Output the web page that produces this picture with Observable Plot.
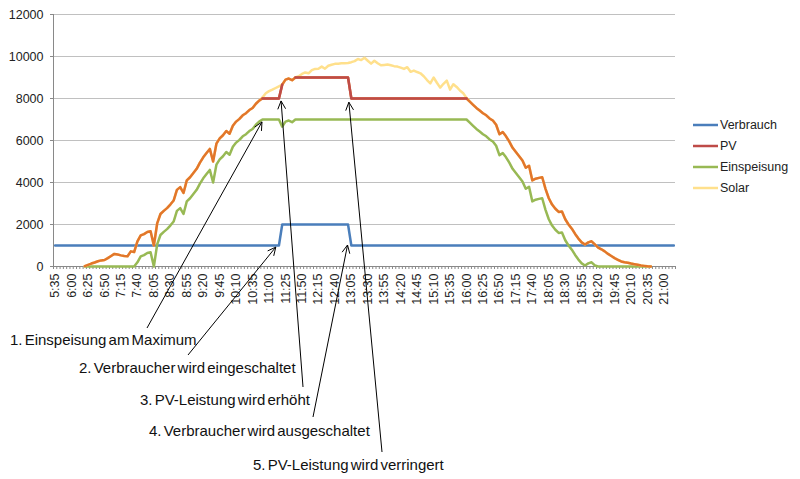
<!DOCTYPE html>
<html><head><meta charset="utf-8">
<script src="https://cdn.jsdelivr.net/npm/d3@7"></script>
<script src="https://cdn.jsdelivr.net/npm/@observablehq/plot@0.6"></script>
<style>
body{margin:0;background:#fff;}
#chart{width:800px;height:479px;}
svg text{font-family:"Liberation Sans",Arial,sans-serif;}
</style></head><body><div id="chart"></div>
<script>
// ---- categories (5-minute steps) ----
const times = (
 "5:35 5:40 5:45 5:50 5:55 " +
 "6:00 6:05 6:10 6:15 6:20 6:25 6:30 6:35 6:40 6:45 6:50 6:55 " +
 "7:00 7:05 7:10 7:15 7:20 7:25 7:30 7:35 7:40 7:45 7:50 7:55 " +
 "8:00 8:05 8:10 8:15 8:20 8:25 8:30 8:35 8:40 8:45 8:50 8:55 " +
 "9:00 9:05 9:10 9:15 9:20 9:25 9:30 9:35 9:40 9:45 9:50 9:55 " +
 "10:00 10:05 10:10 10:15 10:20 10:25 10:30 10:35 10:40 10:45 10:50 10:55 " +
 "11:00 11:05 11:10 11:15 11:20 11:25 11:30 11:35 11:40 11:45 11:50 11:55 " +
 "12:00 12:05 12:10 12:15 12:20 12:25 12:30 12:35 12:40 12:45 12:50 12:55 " +
 "13:00 13:05 13:10 13:15 13:20 13:25 13:30 13:35 13:40 13:45 13:50 13:55 " +
 "14:00 14:05 14:10 14:15 14:20 14:25 14:30 14:35 14:40 14:45 14:50 14:55 " +
 "15:00 15:05 15:10 15:15 15:20 15:25 15:30 15:35 15:40 15:45 15:50 15:55 " +
 "16:00 16:05 16:10 16:15 16:20 16:25 16:30 16:35 16:40 16:45 16:50 16:55 " +
 "17:00 17:05 17:10 17:15 17:20 17:25 17:30 17:35 17:40 17:45 17:50 17:55 " +
 "18:00 18:05 18:10 18:15 18:20 18:25 18:30 18:35 18:40 18:45 18:50 18:55 " +
 "19:00 19:05 19:10 19:15 19:20 19:25 19:30 19:35 19:40 19:45 19:50 19:55 " +
 "20:00 20:05 20:10 20:15 20:20 20:25 20:30 20:35 20:40 20:45 20:50 20:55 " +
 "21:00 21:05 21:10 21:15").split(" ");

const tickLabels = ["5:35","6:00","6:25","6:50","7:15","7:40","8:05","8:30","8:55","9:20",
 "9:45","10:10","10:35","11:00","11:25","11:50","12:15","12:40","13:05","13:30","13:55",
 "14:20","14:45","15:10","15:35","16:00","16:25","16:50","17:15","17:40","18:05","18:30",
 "18:55","19:20","19:45","20:10","20:35","21:00"];

const yTicks = [0, 2000, 4000, 6000, 8000, 10000, 12000];

// ---- series ----
const verbrauch = [
 1000,1000,1000,1000,1000,
 1000,1000,1000,1000,1000,1000,1000,1000,1000,1000,1000,1000,
 1000,1000,1000,1000,1000,1000,1000,1000,1000,1000,1000,1000,
 1000,1000,1000,1000,1000,1000,1000,1000,1000,1000,1000,1000,
 1000,1000,1000,1000,1000,1000,1000,1000,1000,1000,1000,1000,
 1000,1000,1000,1000,1000,1000,1000,1000,1000,1000,1000,1000,
 1000,1000,1000,1000,2000,2000,2000,2000,2000,2000,2000,2000,
 2000,2000,2000,2000,2000,2000,2000,2000,2000,2000,2000,2000,
 2000,1000,1000,1000,1000,1000,1000,1000,1000,1000,1000,1000,
 1000,1000,1000,1000,1000,1000,1000,1000,1000,1000,1000,1000,
 1000,1000,1000,1000,1000,1000,1000,1000,1000,1000,1000,1000,
 1000,1000,1000,1000,1000,1000,1000,1000,1000,1000,1000,1000,
 1000,1000,1000,1000,1000,1000,1000,1000,1000,1000,1000,1000,
 1000,1000,1000,1000,1000,1000,1000,1000,1000,1000,1000,1000,
 1000,1000,1000,1000,1000,1000,1000,1000,1000,1000,1000,1000,
 1000,1000,1000,1000,1000,1000,1000,1000,1000,1000,1000,1000,
 1000,1000,1000,1000];
const verbrauchStart = "5:35";

const pvStart = "6:20";
const pv = [
 20,80,140,190,250,290,310,400,
 500,600,570,530,500,490,720,690,1200,1480,1540,1640,
 1680,1000,2050,2500,2650,2780,2950,3140,3650,3780,3500,4100,
 4250,4450,4650,4950,5200,5400,5600,5000,5850,6100,6250,6450,
 6320,6700,6900,7030,7200,7300,7450,7550,7750,7900,8000,8000,
 8000,8000,8000,8000,8660,8900,8950,8870,9000,9000,9000,9000,
 9000,9000,9000,9000,9000,9000,9000,9000,9000,9000,9000,9000,
 9000,8000,8000,8000,8000,8000,8000,8000,8000,8000,8000,8000,
 8000,8000,8000,8000,8000,8000,8000,8000,8000,8000,8000,8000,
 8000,8000,8000,8000,8000,8000,8000,8000,8000,8000,8000,8000,
 8000,7850,7700,7550,7430,7300,7200,7050,6950,6750,6300,6400,
 6200,5950,5650,5450,5250,5050,4700,4800,4100,4180,4220,4250,
 3700,3250,2950,2750,2600,2620,2250,2000,1800,1550,1330,1150,
 1050,1150,1200,1050,900,820,720,600,500,400,320,240,
 200,180,140,110,80,50,30,10,0];

const einspeisungStart = "6:20";
const einspeisung = [
 0,0,0,0,0,0,0,0,
 0,0,0,0,0,0,0,0,200,480,540,640,
 680,0,1050,1500,1650,1780,1950,2140,2650,2780,2500,3100,
 3250,3450,3650,3950,4200,4400,4600,4000,4850,5100,5250,5450,
 5320,5700,5900,6030,6200,6300,6450,6550,6750,6900,7000,7000,
 7000,7000,7000,7000,6660,6900,6950,6870,7000,7000,7000,7000,
 7000,7000,7000,7000,7000,7000,7000,7000,7000,7000,7000,7000,
 7000,7000,7000,7000,7000,7000,7000,7000,7000,7000,7000,7000,
 7000,7000,7000,7000,7000,7000,7000,7000,7000,7000,7000,7000,
 7000,7000,7000,7000,7000,7000,7000,7000,7000,7000,7000,7000,
 7000,6850,6700,6550,6430,6300,6200,6050,5950,5750,5300,5400,
 5200,4950,4650,4450,4250,4050,3700,3800,3100,3180,3220,3250,
 2700,2250,1950,1750,1600,1620,1250,1000,800,550,330,150,
 50,150,200,50,0,0,0,0,0,0,0,0,
 0,0,0,0,0,0,0,0,0];

const solarStart = "6:20";
const solar = [
 20,80,140,190,250,290,310,400,
 500,600,570,530,500,490,720,690,1200,1480,1540,1640,
 1680,1000,2050,2500,2650,2780,2950,3140,3650,3780,3500,4100,
 4250,4450,4650,4950,5200,5400,5600,5000,5850,6100,6250,6450,
 6320,6700,6900,7030,7200,7300,7450,7550,7750,7900,8050,8250,
 8350,8420,8500,8580,8660,8900,8950,8870,9000,9060,9170,9240,
 9200,9350,9410,9420,9520,9420,9560,9610,9650,9660,9680,9680,
 9690,9730,9780,9880,9830,9940,9800,9660,9800,9680,9580,9600,
 9620,9580,9540,9520,9470,9410,9490,9270,9330,9260,9200,9060,
 8880,8720,9000,8750,8520,8700,8850,8420,8680,8550,8380,8250,
 8030,7850,7700,7550,7430,7300,7200,7050,6950,6750,6300,6400,
 6200,5950,5650,5450,5250,5050,4700,4800,4100,4180,4220,4250,
 3700,3250,2950,2750,2600,2620,2250,2000,1800,1550,1330,1150,
 1050,1150,1200,1050,900,820,720,600,500,400,320,240,
 200,180,140,110,80,50,30,10,0];

// PV stretches limited (drawn in the PV legend colour); elsewhere PV follows Solar
const pvLimited = [["10:50","11:20"],["11:40","16:00"]];

const seriesNames = ["Verbrauch","PV","Einspeisung","Solar"];
const seriesColors = ["#4A7EBB","#BE4B48","#98B954","#FFE08C"];
const pvFollowColor = "#E2762B";

const annotations = [
 {label:"1. Einspeisung am Maximum", time:"10:50", value:6860},
 {label:"2. Verbraucher wird eingeschaltet", time:"11:11", value:900},
 {label:"3. PV-Leistung wird erhöht", time:"11:19", value:7860},
 {label:"4. Verbraucher wird ausgeschaltet", time:"13:00", value:1000},
 {label:"5. PV-Leistung wird verringert", time:"13:02", value:7800}
];
// layout (pixels): arrow tail and text baseline start
const annotationLayout = [
 {tail:[147,328], text:[10,345]},
 {tail:[188,355], text:[79,373]},
 {tail:[303,387], text:[140,405]},
 {tail:[313,417], text:[149,436]},
 {tail:[382,452], text:[253,470]}
];

// ---- helpers ----
const toMin = t => { const [h,m] = t.split(":").map(Number); return h*60+m; };
const m0 = toMin(times[0]), stepMin = toMin(times[1]) - m0;
const toIndex = t => (toMin(t) - m0) / stepMin;
const rows = (arr, start) => arr.map((v,k) => ({i: toIndex(start)+k, v}));

const verbrauchRows = rows(verbrauch, verbrauchStart);
const pvRows = rows(pv, pvStart);
const einRows = rows(einspeisung, einspeisungStart);
const solarRows = rows(solar, solarStart);

const xDomain = [-0.5, times.length - 0.5];
const boundaries = d3.range(-0.5, times.length, 1);
const labelIdx = tickLabels.map(t => times.indexOf(t));
const lineOpts = {x:"i", y:"v", strokeWidth:2.5, strokeLinejoin:"round", strokeLinecap:"round"};

const plot = Plot.plot({
 width: 800, height: 479,
 marginLeft: 53, marginRight: 125, marginTop: 14, marginBottom: 213,
 style: {fontFamily:"Liberation Sans, Arial, sans-serif", fontSize:"12.5px", color:"#222", background:"#fff"},
 x: {type:"linear", domain: xDomain, label:null},
 y: {domain:[0,12000], label:null},
 marks: [
  Plot.ruleY(yTicks.filter(d => d > 0), {stroke:"#C0C0C0", strokeWidth:1}),
  Plot.axisY({ticks: yTicks, tickSize:3, tickPadding:7, tickFormat:"d", stroke:"#898989", label:null, fontSize:12.5}),
  Plot.axisX({ticks: boundaries, tickSize:3, tickFormat:() => "", stroke:"#898989", label:null}),
  Plot.axisX({ticks: labelIdx, tickSize:0, tickPadding:7, tickRotate:-90, tickFormat:i => times[i], label:null, fontSize:12.5}),
  Plot.ruleY([0], {stroke:"#898989"}),
  Plot.ruleX([xDomain[0]], {stroke:"#898989"}),
  Plot.line(verbrauchRows, {...lineOpts, stroke: seriesColors[0]}),
  Plot.line(einRows, {...lineOpts, stroke: seriesColors[2]}),
  Plot.line(solarRows, {...lineOpts, stroke: seriesColors[3]}),
  Plot.line(pvRows, {...lineOpts, stroke: pvFollowColor}),
  ...pvLimited.map(([a,b]) => Plot.line(pvRows.filter(d => d.i >= toIndex(a) && d.i <= toIndex(b)), {...lineOpts, stroke: seriesColors[1]}))
 ]
});
document.getElementById("chart").appendChild(plot);

// ---- legend ----
const svg = d3.select(plot);
const lg = svg.append("g").attr("text-anchor","start");
seriesNames.forEach((name, k) => {
 const y = 125 + k*21;
 lg.append("line").attr("x1",693).attr("x2",718).attr("y1",y).attr("y2",y)
   .attr("stroke", seriesColors[k]).attr("stroke-width",2.5);
 lg.append("text").attr("x",720).attr("y",y).attr("dy","0.35em")
   .attr("text-anchor","start")
   .attr("font-size","12.5px").attr("fill","#222").text(name);
});

// ---- annotations ----
const xs = plot.scale("x"), ys = plot.scale("y");
const ag = svg.append("g").attr("stroke","#000").attr("stroke-width",1).attr("fill","none");
const tg = svg.append("g").attr("text-anchor","start");
annotations.forEach((a, k) => {
 const L = annotationLayout[k];
 const hx = xs.apply(toIndex(a.time)), hy = ys.apply(a.value);
 const [tx, ty] = L.tail;
 const ang = Math.atan2(hy - ty, hx - tx);
 const len = 9, wing = 0.45;
 ag.append("line").attr("x1",tx).attr("y1",ty).attr("x2",hx).attr("y2",hy);
 ag.append("path").attr("d",
   `M${hx - len*Math.cos(ang-wing)},${hy - len*Math.sin(ang-wing)}L${hx},${hy}L${hx - len*Math.cos(ang+wing)},${hy - len*Math.sin(ang+wing)}`);
 tg.append("text").attr("x", L.text[0]).attr("y", L.text[1])
   .attr("text-anchor","start")
   .attr("font-size","15px").attr("fill","#111").style("word-spacing","-2px").text(a.label);
});
</script>
</body></html>
